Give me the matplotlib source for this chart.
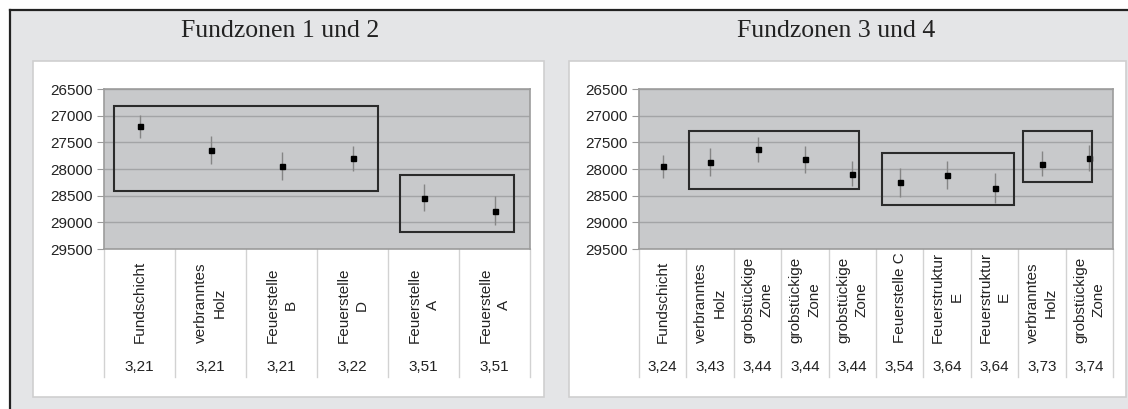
import matplotlib.pyplot as plt
from matplotlib.patches import Rectangle

# --- data ---
left_title = "Fundzonen 1 und 2"
left_labels = ["Fundschicht", "verbranntes\nHolz", "Feuerstelle\nB", "Feuerstelle\nD",
               "Feuerstelle\nA", "Feuerstelle\nA"]
left_depth = ["3,21", "3,21", "3,21", "3,22", "3,51", "3,51"]
left_values = [27200, 27640, 27950, 27800, 28540, 28780]
left_errors = [220, 260, 260, 235, 250, 265]
# group frames: x from / to (category units), y top / bottom
left_box_x0 = [-0.36, 3.67]
left_box_x1 = [3.36, 5.27]
left_box_top = [26810, 28120]
left_box_bot = [28410, 29180]

right_title = "Fundzonen 3 und 4"
right_labels = ["Fundschicht", "verbranntes\nHolz", "grobstückige\nZone", "grobstückige\nZone",
                "grobstückige\nZone", "Feuerstelle C", "Feuerstruktur\nE", "Feuerstruktur\nE",
                "verbranntes\nHolz", "grobstückige\nZone"]
right_depth = ["3,24", "3,43", "3,44", "3,44", "3,44", "3,54", "3,64", "3,64", "3,73", "3,74"]
right_values = [27950, 27870, 27630, 27820, 28090, 28250, 28110, 28350, 27900, 27790]
right_errors = [210, 270, 230, 250, 235, 270, 265, 280, 230, 240]
right_box_x0 = [0.55, 4.63, 7.60]
right_box_x1 = [4.14, 7.41, 9.06]
right_box_top = [27280, 27700, 27280]
right_box_bot = [28380, 28670, 28245]

y_ticks = [26500, 27000, 27500, 28000, 28500, 29000, 29500]

W, H = 1128, 409
fig = plt.figure(figsize=(W / 100, H / 100), dpi=100)
fig.patch.set_facecolor("white")

# background canvas in pixel coordinates
bg = fig.add_axes([0, 0, 1, 1])
bg.set_xlim(0, W)
bg.set_ylim(H, 0)
bg.axis("off")
bg.add_patch(Rectangle((10, 10), W - 10, H - 10, facecolor="#e4e5e7", edgecolor="none"))
bg.plot([10, W], [10, 10], color="#222222", lw=1.6)
bg.plot([10, 10], [10, H], color="#222222", lw=1.6)
for x0, x1 in [(33, 544), (569, 1126)]:
    bg.add_patch(Rectangle((x0, 61), x1 - x0, 336, facecolor="white", edgecolor="#cfcfcf", lw=1.2))
bg.text(280, 31, left_title, ha="center", va="center", fontsize=18.5,
        family="Liberation Serif", color="#222222")
bg.text(836, 31, right_title, ha="center", va="center", fontsize=18.5,
        family="Liberation Serif", color="#222222")


def px_axes(x0, x1, y0, y1):
    return fig.add_axes([x0 / W, (H - y1) / H, (x1 - x0) / W, (y1 - y0) / H])


def draw_panel(ax, labels, depth, values, errors, bx0, bx1, btop, bbot):
    n = len(labels)
    xs = list(range(n))
    ax.set_facecolor("#c8c9cb")
    ax.set_xlim(-0.5, n - 0.5)
    ax.set_ylim(29500, 26500)
    ax.set_yticks(y_ticks)
    ax.set_yticklabels([str(t) for t in y_ticks], family="Liberation Sans",
                       fontsize=11, color="#222222")
    ax.tick_params(axis="y", length=5, color="#999999", pad=3)
    ax.set_xticks([])
    ax.yaxis.grid(True, color="#a3a4a6", lw=1)
    ax.set_axisbelow(True)
    for s in ax.spines.values():
        s.set_color("#9c9c9c")
        s.set_linewidth(1.2)

    ax.errorbar(xs, values, yerr=errors, fmt="s", color="black", ms=3.6,
                ecolor="#858585", elinewidth=1, capsize=0, zorder=3)

    for a, b, t, u in zip(bx0, bx1, btop, bbot):
        ax.add_patch(Rectangle((a, t), b - a, u - t, fill=False,
                               edgecolor="#2b2b2b", lw=1.5, zorder=4))

    tr = ax.get_xaxis_transform()
    for i in range(n + 1):
        ax.plot([i - 0.5, i - 0.5], [0, -0.8], transform=tr, clip_on=False,
                color="#d2d2d2", lw=1)
    for i in xs:
        ax.text(i, -0.5875, labels[i], transform=tr, rotation=90, ha="center",
                va="bottom", multialignment="center", fontsize=11,
                family="Liberation Sans", color="#222222", linespacing=1.4)
        ax.text(i, -0.7375, depth[i], transform=tr, ha="center", va="center",
                fontsize=11, family="Liberation Sans", color="#222222")


ax1 = px_axes(104, 530, 89, 249)
draw_panel(ax1, left_labels, left_depth, left_values, left_errors,
           left_box_x0, left_box_x1, left_box_top, left_box_bot)

ax2 = px_axes(639, 1113, 89, 249)
draw_panel(ax2, right_labels, right_depth, right_values, right_errors,
           right_box_x0, right_box_x1, right_box_top, right_box_bot)

fig.savefig("out.png", dpi=100)
